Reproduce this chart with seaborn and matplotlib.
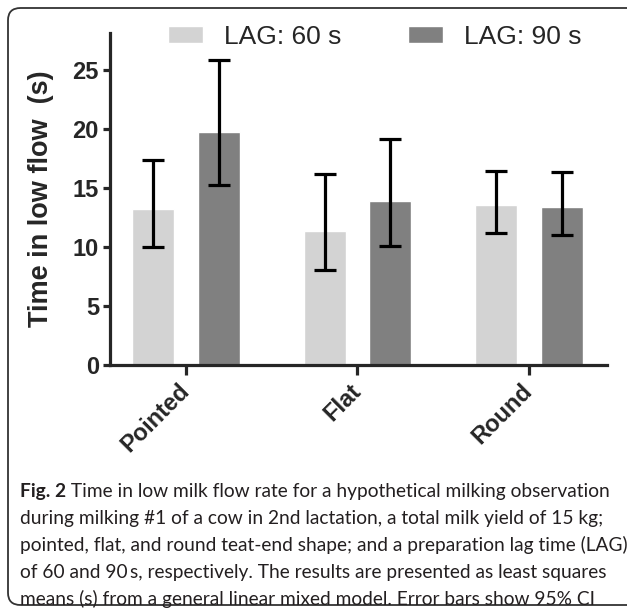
import pandas as pd
import matplotlib
matplotlib.use("Agg")
import matplotlib.pyplot as plt
from matplotlib.patches import FancyBboxPatch
import seaborn as sns

shapes = ["Pointed", "Flat", "Round"]
lags = ["LAG: 60 s", "LAG: 90 s"]
lag60_mean = [13.2, 11.4, 13.6]
lag60_low = [10.0, 8.1, 11.2]
lag60_high = [17.4, 16.2, 16.5]
lag90_mean = [19.8, 13.9, 13.4]
lag90_low = [15.3, 10.1, 11.0]
lag90_high = [25.9, 19.2, 16.4]

caption_lines = [
    "during milking #1 of a cow in 2nd lactation, a total milk yield of 15 kg;",
    "pointed, flat, and round teat-end shape; and a preparation lag time (LAG)",
    "of 60 and 90\u2009s, respectively. The results are presented as least squares",
    "means (s) from a general linear mixed model. Error bars show 95% CI",
]
caption_head = "Fig. 2"
caption_first = " Time in low milk flow rate for a hypothetical milking observation"

df = pd.DataFrame({
    "shape": shapes * 2,
    "lag": [lags[0]] * 3 + [lags[1]] * 3,
    "mean": lag60_mean + lag90_mean,
})

sns.set_style("ticks")
plt.rcParams["font.family"] = ["Liberation Sans", "DejaVu Sans"]

W, H = 627, 611
fig = plt.figure(figsize=(W / 100, H / 100), dpi=100)
ax = fig.add_axes([110 / W, 1 - 365 / H, 497 / W, 332 / H])

sns.barplot(data=df, x="shape", y="mean", hue="lag",
            palette=["#d3d3d3", "#808080"], width=0.76, gap=0.355,
            errorbar=None, saturation=1, ax=ax)

# custom 95% CI bars
lows = [lag60_low, lag90_low]
highs = [lag60_high, lag90_high]
for cont, lo, hi in zip(ax.containers, lows, highs):
    for bar, l, h in zip(cont, lo, hi):
        xc = bar.get_x() + bar.get_width() / 2
        m = bar.get_height()
        ax.errorbar(xc, m, yerr=[[m - l], [h - m]], fmt="none", ecolor="black",
                    elinewidth=2.3, capsize=8, capthick=2.3, zorder=3)

ax.set_xlim(-0.443, 2.455)
ax.set_ylim(0, 28.17)
ax.set_yticks([0, 5, 10, 15, 20, 25])
ax.set_xlabel("")
ax.set_ylabel("Time in low flow  (s)", fontsize=19.5, fontweight="bold", labelpad=13)
sns.despine(ax=ax)
for s in ["left", "bottom"]:
    ax.spines[s].set_linewidth(2.3)
ax.tick_params(axis="y", length=5, width=2.3, labelsize=17, pad=3)
ax.tick_params(axis="x", length=7, width=2.3, labelsize=17, pad=9)
for lab in ax.get_yticklabels():
    lab.set_fontweight("bold")
for lab in ax.get_xticklabels():
    lab.set_fontweight("bold")
    lab.set_rotation(45)
    lab.set_ha("right")
    lab.set_va("center")
    lab.set_rotation_mode("anchor")

handles, labels = ax.get_legend_handles_labels()
ax.legend(handles, labels, ncol=2, frameon=False, fontsize=19,
          loc="center left", bbox_to_anchor=(168 / W, 1 - 37 / H),
          bbox_transform=fig.transFigure, borderaxespad=0, borderpad=0,
          handlelength=1.33, handleheight=0.64, handletextpad=0.8,
          columnspacing=2.5)

# frame around figure
box = FancyBboxPatch((8 / W, 1 - 605 / H), 650 / W, 597 / H,
                     boxstyle="round,pad=0,rounding_size=0.02",
                     transform=fig.transFigure, facecolor="none",
                     edgecolor="#333333", linewidth=1.3, clip_on=False)
fig.add_artist(box)

# caption
cap_font = dict(family=["Lato", "DejaVu Sans"], fontsize=13.8, color="#231f20",
                va="baseline")
y0 = 1 - 497 / H
head = fig.text(20 / W, y0, caption_head, fontweight="bold", **cap_font)
fig.canvas.draw()
bb = head.get_window_extent()
fig.text(bb.x1 / W, y0, caption_first, **cap_font)
for i, line in enumerate(caption_lines):
    fig.text(20 / W, y0 - (i + 1) * 27 / H, line, **cap_font)

fig.savefig("out.png", dpi=100)
